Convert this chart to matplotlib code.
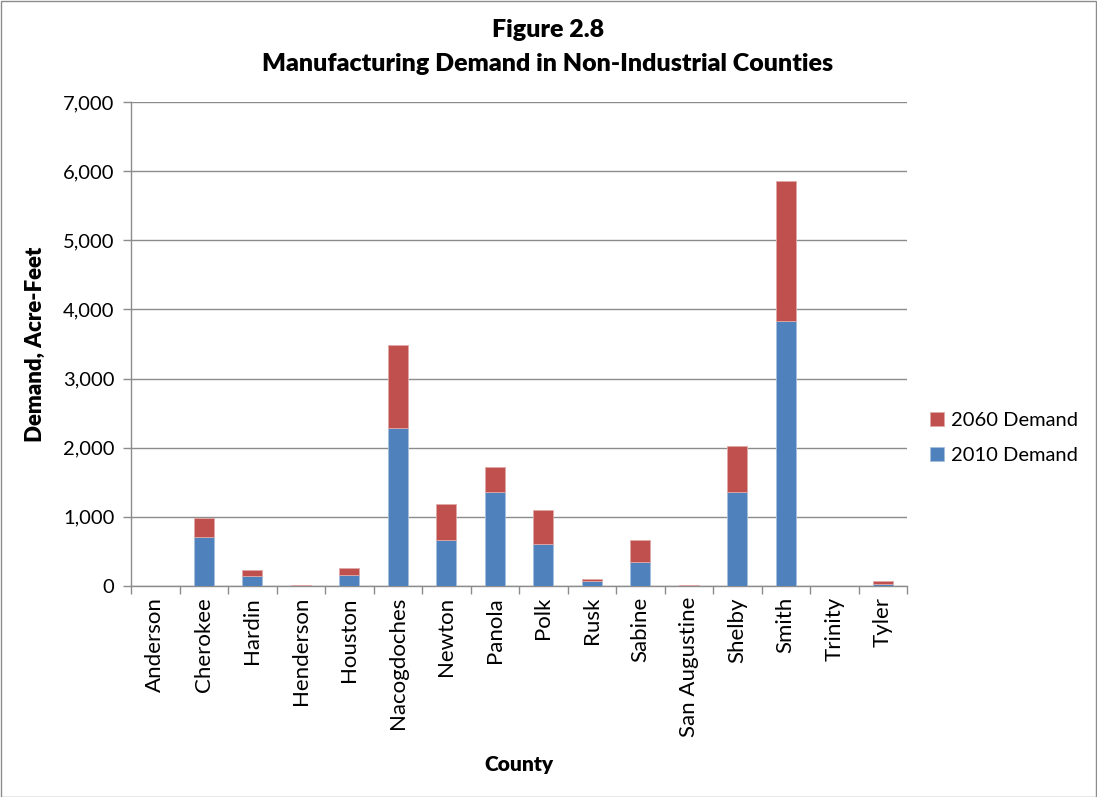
import matplotlib
import numpy as np

matplotlib.use("Agg")
from matplotlib import pyplot as plt
from matplotlib.ticker import FuncFormatter, FixedLocator

counties = [
    "Anderson", "Cherokee", "Hardin", "Henderson", "Houston", "Nacogdoches",
    "Newton", "Panola", "Polk", "Rusk", "Sabine", "San Augustine", "Shelby",
    "Smith", "Trinity", "Tyler",
]
demand_2010 = [0, 713, 140, 4, 155, 2288, 672, 1357, 604, 72, 347, 5, 1358, 3830, 0, 33]
demand_2060 = [0, 277, 91, 10, 105, 1198, 514, 358, 495, 29, 314, 12, 667, 2031, 0, 40]
y_ticks = [0, 1000, 2000, 3000, 4000, 5000, 6000, 7000]

blue = "#4F81BD"
red = "#C0504D"
grid_gray = "#8C8C8C"

plt.rcParams["font.family"] = ["Lato", "DejaVu Sans"]

figure = plt.figure(figsize=(10.97, 7.97), dpi=100)
width_px, height_px = 1097, 797
axis = figure.add_axes([
    131 / width_px,
    1 - 586 / height_px,
    (907 - 131) / width_px,
    (586 - 102) / height_px,
])

x = np.arange(len(counties))
axis.bar(x, demand_2010, width=0.41, color=blue, edgecolor="#A7BFDE",
         linewidth=0.6, label="2010 Demand", zorder=3)
axis.bar(x, demand_2060, width=0.41, bottom=demand_2010, color=red,
         edgecolor="#E0A9A7", linewidth=0.6, label="2060 Demand", zorder=3)

axis.set_xlim(-0.5, len(counties) - 0.5)
axis.set_ylim(0, 7000)
axis.yaxis.set_major_locator(FixedLocator(y_ticks))
axis.yaxis.set_major_formatter(FuncFormatter(lambda v, _: f"{int(v):,}"))
axis.grid(axis="y", color=grid_gray, linewidth=1.0, zorder=0)

axis.set_xticks(x)
axis.set_xticklabels(counties, rotation=90, fontsize=16)
axis.tick_params(axis="x", which="major", length=0, pad=8)
axis.set_xticks(np.arange(-0.5, len(counties)), minor=True)
axis.tick_params(axis="x", which="minor", length=6, color=grid_gray, width=1.0)
axis.tick_params(axis="y", labelsize=14.5, length=6, color=grid_gray, width=1.0, pad=6)

for side in ("top", "right"):
    axis.spines[side].set_visible(False)
for side in ("left", "bottom"):
    axis.spines[side].set_color(grid_gray)
    axis.spines[side].set_linewidth(1.0)

axis.set_ylabel("Demand, Acre-Feet", fontsize=16, fontweight="heavy", labelpad=12)
figure.text(519 / width_px, 1 - 765 / height_px, "County", fontsize=15,
            fontweight="heavy", ha="center", va="center")

figure.text(548 / width_px, 1 - 30 / height_px, "Figure 2.8", fontsize=18,
            fontweight="heavy", ha="center", va="center")
figure.text(548 / width_px, 1 - 64 / height_px,
            "Manufacturing Demand in Non-Industrial Counties", fontsize=18,
            fontweight="heavy", ha="center", va="center")

handles, labels = axis.get_legend_handles_labels()
axis.legend(handles[::-1], labels[::-1], loc="center left",
            bbox_to_anchor=(912 / width_px, 1 - 438 / height_px),
            bbox_transform=figure.transFigure, frameon=False, fontsize=14.5,
            handlelength=0.7, handleheight=0.7, handletextpad=0.35,
            labelspacing=0.9)

border = plt.Rectangle((0.5 / width_px, 0.5 / height_px), 1 - 1.5 / width_px,
                       1 - 1.5 / height_px, transform=figure.transFigure,
                       fill=False, edgecolor="#8C8C8C", linewidth=1.0)
figure.patches.append(border)

figure.savefig("out.png", dpi=100)
plt.close(figure)
